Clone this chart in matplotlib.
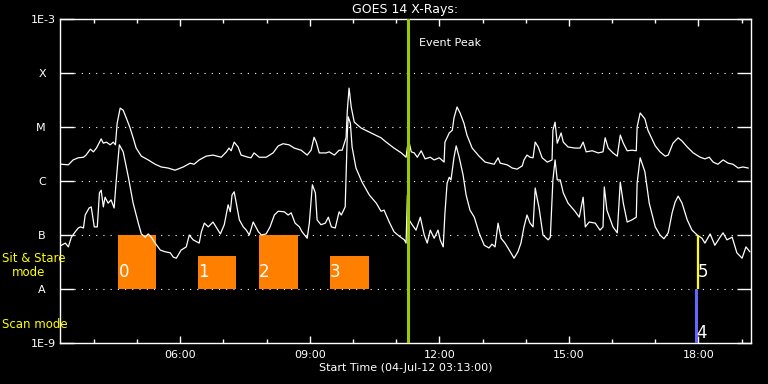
import numpy as np
import matplotlib
matplotlib.use("Agg")
import matplotlib.pyplot as plt
from matplotlib.ticker import FixedLocator, MultipleLocator, NullLocator, FuncFormatter
from matplotlib.transforms import ScaledTranslation

# GOES 14 long channel (1-8 A), time in hours of 04-Jul-12, flux as log10(W/m^2)
long_hours = [3.25, 3.41, 3.52, 3.64, 3.76, 3.82, 3.92, 3.99, 4.06, 4.10,
              4.17, 4.22, 4.29, 4.38, 4.45, 4.50, 4.54, 4.61, 4.68, 4.75,
              4.84, 4.91, 4.98, 5.10, 5.26, 5.42, 5.56, 5.72, 5.88, 6.07,
              6.23, 6.32, 6.44, 6.60, 6.76, 6.95, 7.07, 7.13, 7.18, 7.25,
              7.34, 7.41, 7.57, 7.64, 7.71, 7.83, 7.99, 8.15, 8.27, 8.38,
              8.52, 8.64, 8.80, 8.94, 9.03, 9.10, 9.15, 9.22, 9.38, 9.45,
              9.57, 9.68, 9.75, 9.84, 9.87, 9.91, 9.96, 10.03, 10.19, 10.42,
              10.65, 10.77, 10.95, 11.12, 11.23, 11.26, 11.30, 11.35, 11.42, 11.49,
              11.58, 11.67, 11.79, 11.88, 12.00, 12.11, 12.13, 12.23, 12.30, 12.34,
              12.41, 12.48, 12.57, 12.64, 12.76, 12.92, 13.06, 13.27, 13.36, 13.41,
              13.57, 13.69, 13.80, 13.92, 13.96, 14.03, 14.10, 14.17, 14.22, 14.29,
              14.38, 14.50, 14.61, 14.63, 14.68, 14.73, 14.82, 14.87, 14.98, 15.14,
              15.26, 15.33, 15.40, 15.54, 15.68, 15.79, 15.84, 15.91, 16.02, 16.12,
              16.19, 16.26, 16.35, 16.46, 16.56, 16.58, 16.65, 16.76, 16.83, 17.00,
              17.11, 17.23, 17.30, 17.41, 17.53, 17.62, 17.74, 17.88, 18.04, 18.15,
              18.25, 18.34, 18.45, 18.57, 18.69, 18.80, 18.92, 19.03, 19.15]
long_log = [-5.69, -5.70, -5.61, -5.57, -5.56, -5.52, -5.41, -5.46, -5.39, -5.33,
            -5.22, -5.30, -5.28, -5.33, -5.28, -5.33, -4.93, -4.65, -4.69, -4.83,
            -5.02, -5.20, -5.39, -5.54, -5.61, -5.69, -5.74, -5.76, -5.80, -5.74,
            -5.67, -5.69, -5.61, -5.54, -5.52, -5.56, -5.46, -5.39, -5.44, -5.28,
            -5.37, -5.52, -5.56, -5.57, -5.48, -5.56, -5.56, -5.48, -5.35, -5.31,
            -5.33, -5.39, -5.43, -5.52, -5.43, -5.19, -5.28, -5.48, -5.48, -5.46,
            -5.52, -5.43, -5.43, -5.20, -4.69, -4.28, -4.63, -4.91, -5.02, -5.11,
            -5.20, -5.28, -5.39, -5.48, -5.56, -5.37, -5.28, -5.46, -5.48, -5.56,
            -5.44, -5.59, -5.56, -5.61, -5.57, -5.65, -5.28, -5.11, -5.06, -4.83,
            -4.63, -4.74, -4.93, -5.15, -5.39, -5.54, -5.65, -5.69, -5.57, -5.67,
            -5.70, -5.76, -5.78, -5.72, -5.61, -5.52, -5.56, -5.57, -5.28, -5.37,
            -5.57, -5.65, -5.61, -5.06, -4.91, -5.30, -5.11, -5.28, -5.37, -5.39,
            -5.39, -5.28, -5.46, -5.44, -5.48, -5.46, -5.20, -5.39, -5.48, -5.54,
            -5.15, -5.30, -5.44, -5.43, -5.44, -5.00, -4.74, -4.85, -5.06, -5.35,
            -5.46, -5.54, -5.52, -5.30, -5.20, -5.26, -5.37, -5.48, -5.56, -5.59,
            -5.56, -5.65, -5.69, -5.61, -5.67, -5.69, -5.76, -5.74, -5.76]

# short channel (0.5-4 A)
short_hours = [3.25, 3.34, 3.41, 3.48, 3.57, 3.64, 3.69, 3.76, 3.80, 3.89,
               3.94, 4.01, 4.08, 4.13, 4.17, 4.22, 4.26, 4.33, 4.40, 4.47,
               4.52, 4.59, 4.68, 4.80, 4.91, 5.03, 5.10, 5.19, 5.26, 5.33,
               5.42, 5.54, 5.65, 5.77, 5.84, 5.91, 6.02, 6.14, 6.21, 6.30,
               6.44, 6.49, 6.56, 6.65, 6.76, 6.83, 6.93, 7.02, 7.11, 7.16,
               7.20, 7.25, 7.32, 7.37, 7.46, 7.53, 7.60, 7.69, 7.81, 7.88,
               7.99, 8.08, 8.18, 8.27, 8.41, 8.50, 8.57, 8.66, 8.76, 8.82,
               8.94, 8.99, 9.06, 9.13, 9.17, 9.26, 9.36, 9.43, 9.50, 9.59,
               9.68, 9.73, 9.82, 9.87, 9.89, 9.94, 9.98, 10.07, 10.21, 10.38,
               10.54, 10.65, 10.72, 10.84, 10.95, 11.07, 11.19, 11.23, 11.26, 11.30,
               11.37, 11.46, 11.56, 11.65, 11.72, 11.79, 11.88, 11.97, 12.02, 12.09,
               12.13, 12.18, 12.23, 12.27, 12.34, 12.39, 12.46, 12.55, 12.62, 12.71,
               12.81, 12.92, 13.04, 13.15, 13.22, 13.29, 13.36, 13.43, 13.52, 13.62,
               13.73, 13.82, 13.89, 13.96, 14.03, 14.10, 14.17, 14.22, 14.26, 14.31,
               14.40, 14.52, 14.57, 14.63, 14.68, 14.73, 14.80, 14.87, 14.98, 15.14,
               15.24, 15.33, 15.38, 15.47, 15.61, 15.72, 15.79, 15.82, 15.88, 16.02,
               16.12, 16.19, 16.26, 16.35, 16.46, 16.56, 16.58, 16.65, 16.76, 16.86,
               17.00, 17.11, 17.20, 17.30, 17.39, 17.46, 17.53, 17.62, 17.74, 17.85,
               17.97, 18.08, 18.15, 18.27, 18.38, 18.50, 18.57, 18.66, 18.78, 18.89,
               19.01, 19.10, 19.19]
short_log = [-7.19, -7.15, -7.22, -7.04, -6.94, -6.87, -6.85, -6.87, -6.63, -6.50,
             -6.48, -6.85, -6.85, -6.22, -6.17, -6.48, -6.30, -6.41, -6.35, -6.50,
             -5.98, -5.33, -5.46, -5.93, -6.41, -6.78, -6.98, -7.04, -6.98, -7.04,
             -7.15, -7.28, -7.31, -7.33, -7.41, -7.43, -7.28, -7.22, -7.00, -7.09,
             -7.15, -6.94, -6.78, -6.85, -6.76, -6.85, -6.98, -6.81, -6.44, -6.57,
             -6.26, -6.20, -6.50, -6.72, -6.85, -6.91, -7.00, -6.76, -6.94, -7.00,
             -6.98, -6.85, -6.63, -6.56, -6.57, -6.63, -6.59, -6.78, -6.85, -6.94,
             -7.06, -6.78, -6.07, -6.22, -6.72, -6.81, -6.78, -6.67, -6.85, -6.87,
             -6.57, -6.63, -6.48, -5.11, -4.81, -4.93, -5.37, -5.76, -6.02, -6.26,
             -6.41, -6.56, -6.54, -6.76, -6.94, -7.02, -7.09, -7.15, -6.26, -6.72,
             -6.81, -6.91, -6.67, -7.00, -7.15, -6.91, -7.06, -6.91, -7.09, -7.22,
             -6.59, -6.04, -5.93, -5.98, -5.56, -5.35, -5.56, -5.89, -6.26, -6.54,
             -6.67, -6.96, -7.19, -7.24, -7.17, -7.22, -6.78, -7.06, -7.15, -7.28,
             -7.43, -7.31, -7.15, -6.85, -6.63, -6.78, -6.85, -6.13, -6.30, -6.50,
             -7.00, -7.09, -7.04, -5.98, -5.61, -5.98, -5.98, -6.22, -6.41, -6.56,
             -6.67, -6.30, -6.85, -6.76, -6.78, -6.91, -6.85, -6.11, -6.54, -6.85,
             -6.96, -6.02, -6.41, -6.76, -6.72, -6.67, -6.04, -5.57, -5.83, -6.41,
             -6.85, -7.00, -7.07, -6.96, -6.59, -6.39, -6.28, -6.41, -6.72, -6.91,
             -7.00, -7.06, -7.15, -6.98, -7.19, -7.04, -6.96, -7.09, -7.04, -7.33,
             -7.43, -7.22, -7.31]

# sit & stare observations (start hour, duration in hours, top flux)
obs_ids = ["0", "1", "2", "3"]
obs_start = [4.57, 6.42, 7.83, 9.47]
obs_length = [0.88, 0.88, 0.89, 0.90]
obs_top = [1e-7, 4.1e-8, 1e-7, 4.1e-8]

# scan / sit & stare markers at the end of the day
scan_id, scan_hour = "4", 17.95
stare_id, stare_hour = "5", 17.98

event_peak = 11.27
t_start, t_end = 3 + 13 / 60, 19 + 13 / 60

level_flux = [1e-9, 1e-8, 1e-7, 1e-6, 1e-5, 1e-4, 1e-3]
level_names = ["1E-9", "A", "B", "C", "M", "X", "1E-3"]
major_hours = [6, 9, 12, 15, 18]

fig = plt.figure(figsize=(7.68, 3.84), dpi=100, facecolor="black")
ax = fig.add_axes([60 / 768, 41 / 384, 691 / 768, 324 / 384])
ax.set_facecolor("black")

ax.set_yscale("log")
ax.set_ylim(1e-9, 1e-3)
ax.set_xlim(t_start, t_end)

for lvl in level_flux[1:-1]:
    ax.axhline(lvl, xmin=0.02, xmax=0.978, color="white", lw=0.8,
               ls=(0, (1, 5.5)), zorder=1)

ax.bar(obs_start, np.array(obs_top) - 1e-8, width=obs_length, bottom=1e-8,
       align="edge", color="#ff8000", zorder=2)
for oid, s in zip(obs_ids, obs_start):
    ax.text(s, 10 ** -7.69, oid, color="white", fontsize=12, ha="left",
            va="center", zorder=3)

ax.plot(long_hours, 10.0 ** np.array(long_log), color="white", lw=0.9, zorder=4)
ax.plot(short_hours, 10.0 ** np.array(short_log), color="white", lw=0.9, zorder=4)

ax.axvline(event_peak, color="#99cc00", lw=2.2, zorder=5)
ax.text(event_peak + 0.25, 10 ** -3.45, "Event Peak", color="white",
        fontsize=8, ha="left", va="center")

ax.vlines(stare_hour, 1e-8, 1e-7, color="#ffff00", lw=1.6, zorder=5)
ax.vlines(scan_hour, 1e-9, 1e-8, color="#6666ff", lw=2.2, zorder=5)
ax.text(stare_hour, 10 ** -7.68, stare_id, color="white", fontsize=12,
        ha="left", va="center", zorder=6)
ax.text(scan_hour + 0.01, 10 ** -8.82, scan_id, color="white", fontsize=12,
        ha="left", va="center", zorder=6)

for sp in ax.spines.values():
    sp.set_color("white")
    sp.set_linewidth(1)

ax.yaxis.set_major_locator(FixedLocator(level_flux))
ax.yaxis.set_minor_locator(NullLocator())
ax.set_yticklabels(level_names)
ax.tick_params(axis="y", which="major", direction="in", length=10, width=1,
               colors="white", right=True, labelsize=8, pad=3)
for lbl in ax.get_yticklabels():
    if len(lbl.get_text()) == 1:
        lbl.set_transform(lbl.get_transform()
                          + ScaledTranslation(-0.1, 0, fig.dpi_scale_trans))

ax.xaxis.set_major_locator(FixedLocator(major_hours))
ax.xaxis.set_minor_locator(MultipleLocator(1))
ax.xaxis.set_major_formatter(FuncFormatter(lambda h, p: f"{int(round(h)):02d}:00"))
ax.tick_params(axis="x", which="major", direction="in", length=5, width=1,
               colors="white", top=True, labelsize=8, pad=5)
ax.tick_params(axis="x", which="minor", direction="in", length=3, width=1,
               colors="white", top=True)

ax.set_xlabel("Start Time (04-Jul-12 03:13:00)", color="white", fontsize=8,
              labelpad=2)
ax.set_title("GOES 14 X-Rays:", color="white", fontsize=9, pad=4)

fig.text(2 / 768, 1 - 258 / 384, "Sit & Stare", color="#ffff00", fontsize=8.5,
         ha="left", va="center")
fig.text(12 / 768, 1 - 272 / 384, "mode", color="#ffff00", fontsize=8.5,
         ha="left", va="center")
fig.text(2 / 768, 1 - 324 / 384, "Scan mode", color="#ffff00", fontsize=8.5,
         ha="left", va="center")

fig.savefig("out.png", dpi=100, facecolor="black")
